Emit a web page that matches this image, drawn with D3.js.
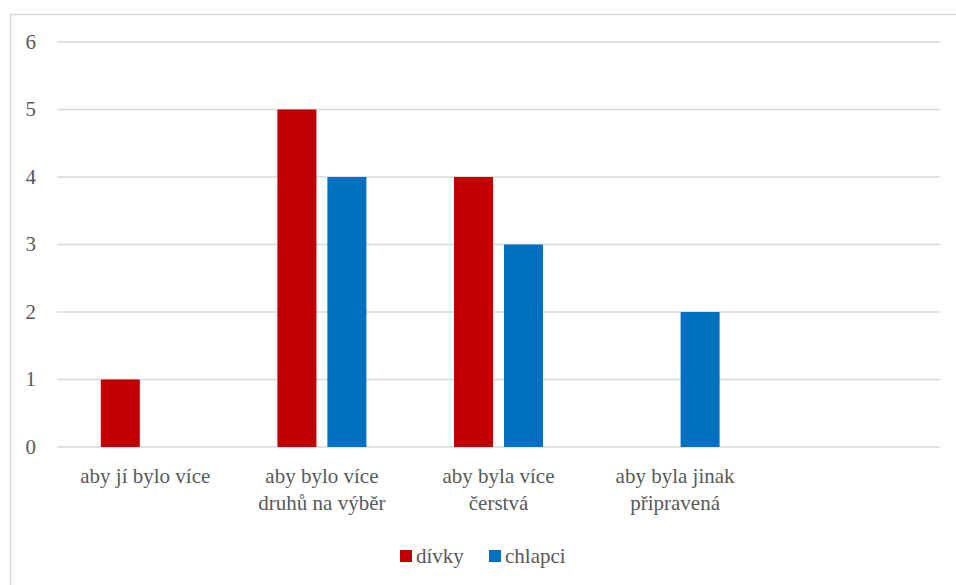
<!DOCTYPE html>
<html>
<head>
<meta charset="utf-8">
<script src="https://cdn.jsdelivr.net/npm/d3@7"></script>
<style>
  body { margin: 0; background: #fff; }
</style>
</head>
<body>
<div id="chart"></div>
<script>
const categories = [["aby jí bylo více"], ["aby bylo více", "druhů na výběr"], ["aby byla více", "čerstvá"], ["aby byla jinak", "připravená"], [""]];
const series = ["dívky", "chlapci"];
const divky = [1, 5, 4, null, null];
const chlapci = [null, 4, 3, 2, null];
const yTicks = [0, 1, 2, 3, 4, 5, 6];
const colors = ["#C00000", "#0070C0"];

const W = 956, H = 585;
const plot = {left: 57, right: 940, top: 42, bottom: 447};
const FONT = "'Liberation Serif', 'Times New Roman', 'DejaVu Serif', serif";

const svg = d3.select("#chart").append("svg")
    .attr("width", W)
    .attr("height", H)
    .attr("font-family", FONT);

// chart frame (cropped on right and bottom)
svg.append("rect")
    .attr("x", 10.5).attr("y", 14.5)
    .attr("width", 1000).attr("height", 1000)
    .attr("fill", "#fff")
    .attr("stroke", "#d9d9d9")
    .attr("stroke-width", 1.5);

const y = d3.scaleLinear().domain([0, 6]).range([plot.bottom, plot.top]);
const x0 = d3.scaleBand().domain(d3.range(categories.length)).range([plot.left, plot.right]);
const outer = (x0.bandwidth() - 89) / 2;
const x1 = d3.scaleBand().domain(series).range([outer, outer + 89]).paddingInner(0.22);

// gridlines
svg.append("g").selectAll("line")
    .data(yTicks)
    .join("line")
    .attr("x1", plot.left).attr("x2", plot.right)
    .attr("y1", d => y(d)).attr("y2", d => y(d))
    .attr("stroke", "#d9d9d9")
    .attr("stroke-width", 1.5);

// y labels
svg.append("g").selectAll("text")
    .data(yTicks)
    .join("text")
    .attr("x", 36).attr("y", d => y(d))
    .attr("dy", "0.32em")
    .attr("text-anchor", "end")
    .attr("font-size", 21)
    .attr("fill", "#595959")
    .text(d => d);

// bars
const rows = categories.map((c, i) => ({i, vals: [divky[i], chlapci[i]]}));
const groups = svg.append("g").selectAll("g")
    .data(rows)
    .join("g")
    .attr("transform", d => `translate(${x0(d.i)},0)`);

groups.selectAll("rect")
    .data(d => d.vals.map((v, k) => ({v, k})).filter(e => e.v != null))
    .join("rect")
    .attr("x", e => x1(series[e.k]))
    .attr("width", x1.bandwidth())
    .attr("y", e => y(e.v))
    .attr("height", e => y(0) - y(e.v))
    .attr("fill", e => colors[e.k]);

// category labels
const lab = svg.append("g").selectAll("text")
    .data(categories)
    .join("text")
    .attr("x", (d, i) => x0(i) + x0.bandwidth() / 2)
    .attr("y", 483)
    .attr("text-anchor", "middle")
    .attr("font-size", 21)
    .attr("fill", "#595959");
lab.selectAll("tspan")
    .data(d => d)
    .join("tspan")
    .attr("x", function() { return this.parentNode.getAttribute("x"); })
    .attr("dy", (d, i) => i === 0 ? 0 : 27)
    .text(d => d);

// legend
const legend = svg.append("g").attr("transform", "translate(400,556)");
const items = legend.selectAll("g")
    .data(series)
    .join("g")
    .attr("transform", (d, i) => `translate(${i * 89},0)`);
items.append("rect")
    .attr("x", 0).attr("y", -6)
    .attr("width", 12).attr("height", 12)
    .attr("fill", (d, i) => colors[i]);
items.append("text")
    .attr("x", 16).attr("y", 0)
    .attr("dy", "0.32em")
    .attr("font-size", 21)
    .attr("fill", "#595959")
    .text(d => d);
</script>
</body>
</html>
